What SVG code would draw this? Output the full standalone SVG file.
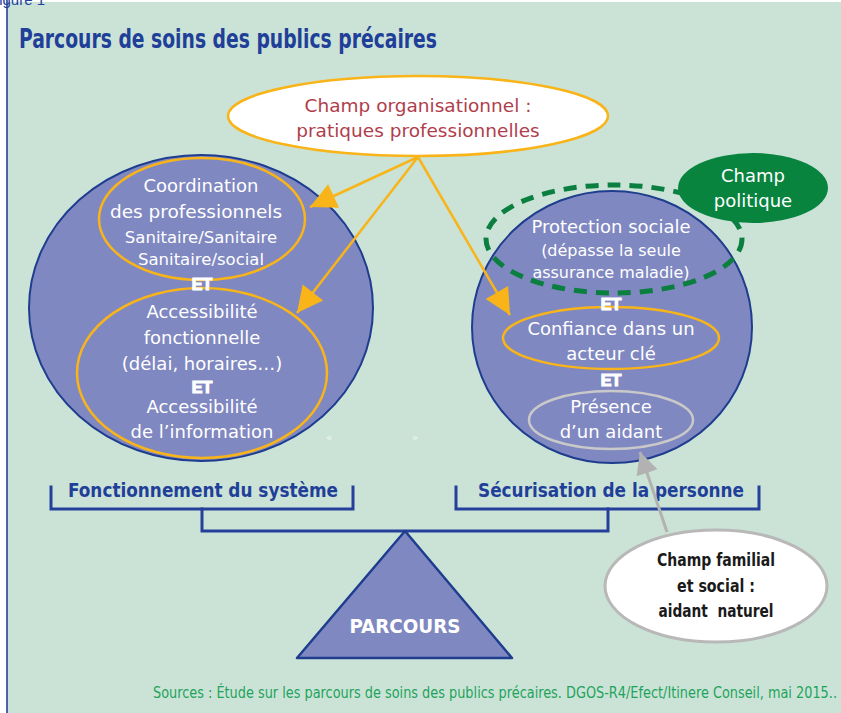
<svg xmlns="http://www.w3.org/2000/svg" width="841" height="713" viewBox="0 0 841 713">
  <defs>
    <style>
      .body { font-family: "DejaVu Sans", "Liberation Sans", sans-serif; fill: #ffffff; text-anchor: middle; }
      .et { font-family: "Liberation Sans", "DejaVu Sans", sans-serif; font-weight: bold; font-size: 16px; fill: #ffffff; stroke: #ffffff; stroke-width: 1.2; text-anchor: middle; }
      .cond { font-family: "Liberation Sans Narrow", "DejaVu Sans Condensed", "Liberation Sans", sans-serif; font-weight: bold; }
      .orange { fill: none; stroke: #f8b419; stroke-width: 2.5; }
      .blob { fill: #8088c1; stroke: #1f3d8e; stroke-width: 2; }
      .bracket { fill: none; stroke: #24409a; stroke-width: 3; stroke-linecap: square; }
    </style>
    <marker id="arrOrange" viewBox="0 0 10 10" refX="10" refY="5" markerWidth="10" markerHeight="10" markerUnits="userSpaceOnUse" orient="auto" overflow="visible">
      <path d="M0,0 L10,5 L0,10 z" fill="#f8b419" transform="scale(2.6)" transform-origin="10 5"/>
    </marker>
    <marker id="arrGrey" viewBox="0 0 10 10" refX="10" refY="5" markerWidth="10" markerHeight="10" markerUnits="userSpaceOnUse" orient="auto" overflow="visible">
      <path d="M0,0 L10,5 L0,10 z" fill="#b2b2b2" transform="scale(2.2)" transform-origin="10 5"/>
    </marker>
  </defs>

  <!-- page -->
  <rect x="0" y="0" width="841" height="713" fill="#ffffff"/>
  <rect x="7" y="2" width="834" height="711" fill="#cbe3d7"/>
  <line x1="7" y1="0" x2="7" y2="713" stroke="#2340a0" stroke-width="1.6"/>
  <text x="45" y="5" font-family="Liberation Sans, sans-serif" font-size="15" fill="#2340a0" text-anchor="end">Figure 1</text>

  <text class="cond" x="19" y="48" font-size="26" fill="#1f3f98" textLength="418" lengthAdjust="spacingAndGlyphs">Parcours de soins des publics précaires</text>

  <!-- left sphere: fonctionnement du système -->
  <g id="systeme">
    <ellipse class="blob" cx="201" cy="308" rx="172" ry="153"/>
    <ellipse class="orange" cx="202" cy="219" rx="103" ry="61"/>
    <ellipse class="orange" cx="202" cy="373" rx="125" ry="85"/>
    <text class="body" x="201" y="192" font-size="18">Coordination</text>
    <text class="body" x="196" y="218" font-size="18.5">des professionnels</text>
    <text class="body" x="201" y="243" font-size="16.5">Sanitaire/Sanitaire</text>
    <text class="body" x="201" y="265" font-size="16.5">Sanitaire/social</text>
    <text class="et" x="202" y="290">ET</text>
    <text class="body" x="202" y="318" font-size="18">Accessibilité</text>
    <text class="body" x="202" y="344" font-size="18">fonctionnelle</text>
    <text class="body" x="202" y="370" font-size="18">(délai, horaires…)</text>
    <text class="et" x="202" y="393">ET</text>
    <text class="body" x="202" y="413" font-size="18">Accessibilité</text>
    <text class="body" x="202" y="438" font-size="18">de l’information</text>
    <text x="326" y="441" font-family="DejaVu Sans, sans-serif" font-size="10" fill="#eef6f1">«</text>
    <text x="412" y="441" font-family="DejaVu Sans, sans-serif" font-size="10" fill="#eef6f1">»</text>
  </g>

  <!-- right sphere: sécurisation de la personne -->
  <g id="personne">
    <ellipse class="blob" cx="612" cy="327" rx="140" ry="136"/>
    <ellipse cx="614" cy="239" rx="128" ry="54" fill="none" stroke="#0b7f3f" stroke-width="5" stroke-dasharray="13 9"/>
    <ellipse class="orange" cx="611" cy="338" rx="108" ry="31"/>
    <ellipse cx="611" cy="420" rx="82" ry="29" fill="none" stroke="#c9c9c9" stroke-width="2.5"/>
    <text class="body" x="611" y="233" font-size="18">Protection sociale</text>
    <text class="body" x="611" y="256" font-size="16">(dépasse la seule</text>
    <text class="body" x="611" y="278" font-size="16">assurance maladie)</text>
    <text class="et" x="611" y="310">ET</text>
    <text class="body" x="611" y="335" font-size="18">Confiance dans un</text>
    <text class="body" x="611" y="360" font-size="18">acteur clé</text>
    <text class="et" x="611" y="386">ET</text>
    <text class="body" x="611" y="413" font-size="18">Présence</text>
    <text class="body" x="611" y="438" font-size="18">d’un aidant</text>
  </g>

  <!-- political field -->
  <g id="champ-politique">
    <ellipse cx="753" cy="188" rx="75" ry="35" fill="#08843f"/>
    <text class="body" x="753" y="182" font-size="18">Champ</text>
    <text class="body" x="753" y="207" font-size="18">politique</text>
  </g>

  <!-- organisational field -->
  <g id="champ-organisationnel">
    <ellipse cx="418" cy="116" rx="190" ry="40" fill="#ffffff" stroke="#f8b419" stroke-width="2.5"/>
    <text x="418" y="112" font-family="DejaVu Sans, sans-serif" font-size="18.5" fill="#b13d4b" text-anchor="middle">Champ organisationnel :</text>
    <text x="418" y="137" font-family="DejaVu Sans, sans-serif" font-size="18.5" fill="#b13d4b" text-anchor="middle">pratiques professionnelles</text>
  </g>

  <!-- family and social field -->
  <g id="champ-familial">
    <ellipse cx="716" cy="586" rx="111" ry="56" fill="#ffffff" stroke="#b8b8b8" stroke-width="3"/>
    <text class="cond" x="716" y="566" font-size="18" fill="#1a1a1a" text-anchor="middle" textLength="118" lengthAdjust="spacingAndGlyphs">Champ familial</text>
    <text class="cond" x="716" y="592" font-size="18" fill="#1a1a1a" text-anchor="middle" textLength="78" lengthAdjust="spacingAndGlyphs">et social :</text>
    <text class="cond" x="716" y="617" font-size="18" fill="#1a1a1a" text-anchor="middle" xml:space="preserve" textLength="115" lengthAdjust="spacingAndGlyphs">aidant  naturel</text>
  </g>

  <!-- balance -->
  <g id="balance">
    <polyline class="bracket" points="51,487 51,509 353,509 353,487"/>
    <polyline class="bracket" points="456,487 456,509 759,509 759,487"/>
    <polyline class="bracket" points="202,509 202,531 608,531 608,509"/>
    <text class="cond" x="203" y="497" font-size="19" fill="#1f3f98" text-anchor="middle" textLength="270" lengthAdjust="spacingAndGlyphs">Fonctionnement du système</text>
    <text class="cond" x="611" y="497" font-size="19" fill="#1f3f98" text-anchor="middle" textLength="266" lengthAdjust="spacingAndGlyphs">Sécurisation de la personne</text>
  </g>

  <g id="parcours">
    <polygon points="405,531 297,658 512,658" fill="#8088c1" stroke="#1f3d8e" stroke-width="2.5" stroke-linejoin="round"/>
    <text class="cond" x="405" y="633" font-size="19" fill="#ffffff" text-anchor="middle" textLength="111" lengthAdjust="spacingAndGlyphs">PARCOURS</text>
  </g>

  <!-- connectors -->
  <g id="connectors">
    <line x1="418" y1="157" x2="310" y2="207" stroke="#f8b419" stroke-width="2.5" marker-end="url(#arrOrange)"/>
    <line x1="418" y1="157" x2="297" y2="313" stroke="#f8b419" stroke-width="2.5" marker-end="url(#arrOrange)"/>
    <line x1="418" y1="157" x2="510" y2="315" stroke="#f8b419" stroke-width="2.5" marker-end="url(#arrOrange)"/>
    <line x1="667" y1="532" x2="640" y2="452" stroke="#b2b2b2" stroke-width="3" marker-end="url(#arrGrey)"/>
  </g>

  <text x="153" y="698" font-family="Liberation Sans Narrow, DejaVu Sans Condensed, Liberation Sans, sans-serif" font-size="15" fill="#1ea35b" textLength="684" lengthAdjust="spacingAndGlyphs">Sources : Étude sur les parcours de soins des publics précaires. DGOS-R4/Efect/Itinere Conseil, mai 2015..</text>
</svg>
